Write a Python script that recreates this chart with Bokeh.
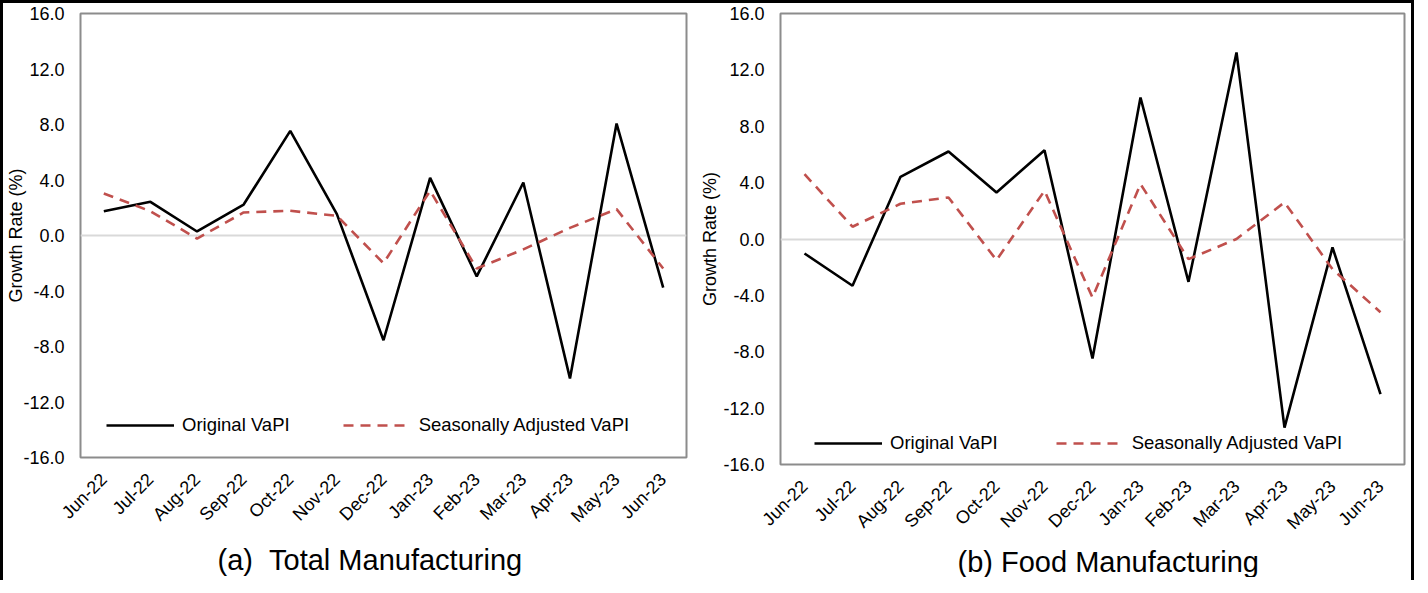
from math import pi
from bokeh.plotting import figure
from bokeh.layouts import row
from bokeh.models import (FactorRange, Range1d, FixedTicker, NumeralTickFormatter,
                          Legend, LegendItem, Title)
from bokeh.embed import file_html
from bokeh.resources import INLINE

months = ["Jun-22", "Jul-22", "Aug-22", "Sep-22", "Oct-22", "Nov-22", "Dec-22",
          "Jan-23", "Feb-23", "Mar-23", "Apr-23", "May-23", "Jun-23"]

total_original = [1.75, 2.43, 0.29, 2.23, 7.54, 1.54, -7.55, 4.15, -2.95, 3.82, -10.3, 8.07, -3.75]
total_sa = [3.03, 1.75, -0.22, 1.66, 1.78, 1.42, -2.0, 3.22, -2.38, -1.0, 0.55, 1.9, -2.38]

food_original = [-1.03, -3.32, 4.41, 6.21, 3.30, 6.3, -8.48, 10.04, -3.04, 13.24, -13.38, -0.6, -11.0]
food_sa = [4.6, 0.87, 2.5, 2.95, -1.5, 3.42, -4.15, 3.9, -1.43, 0.0, 2.6, -2.14, -5.2]

y_ticks = [-16, -12, -8, -4, 0, 4, 8, 12, 16]
caption_a = "(a)\u00a0\u00a0Total Manufacturing"
caption_b = "(b) Food Manufacturing"
series_names = ["Original VaPI", "Seasonally Adjusted VaPI"]

FONT = "Liberation Sans"
RED = "#c0504d"


def make_panel(orig, sa, caption, frame_w, frame_h, mb_left, mb_right, mb_bottom,
               ylab_standoff, legend_loc, legend_spacing, cap_offset, cap_standoff):
    p = figure(x_range=FactorRange(*months, range_padding=0), y_range=Range1d(-16, 16),
               frame_width=frame_w, frame_height=frame_h,
               output_backend="svg", toolbar_location=None,
               min_border_left=mb_left, min_border_right=mb_right,
               min_border_top=10, min_border_bottom=mb_bottom,
               background_fill_color="white", border_fill_color="white")
    p.outline_line_color = "#8c8c8c"
    p.outline_line_width = 2
    p.xgrid.visible = False
    p.ygrid.ticker = FixedTicker(ticks=[0])
    p.ygrid.grid_line_color = "#d9d9d9"
    p.ygrid.grid_line_width = 2

    p.yaxis.ticker = FixedTicker(ticks=y_ticks)
    p.yaxis.formatter = NumeralTickFormatter(format="0.0")
    p.yaxis.axis_label = "Growth Rate (%)"
    p.yaxis.axis_label_text_font = FONT
    p.yaxis.axis_label_text_font_style = "normal"
    p.yaxis.axis_label_text_font_size = "18px"
    p.yaxis.axis_label_text_color = "black"
    p.yaxis.axis_label_standoff = ylab_standoff
    p.yaxis.major_label_standoff = 16

    for ax in (p.xaxis[0], p.yaxis[0]):
        ax.axis_line_color = None
        ax.major_tick_line_color = None
        ax.minor_tick_line_color = None
        ax.major_tick_out = 0
        ax.major_tick_in = 0
        ax.minor_tick_out = 0
        ax.minor_tick_in = 0
        ax.major_label_text_font = FONT
        ax.major_label_text_font_size = "18px"
        ax.major_label_text_color = "black"
    p.xaxis.major_label_orientation = pi / 4
    p.xaxis.major_label_standoff = 19

    r1 = p.line(months, orig, line_color="black", line_width=2.6)
    r2 = p.line(months, sa, line_color=RED, line_width=2.6, line_dash="10 7")

    leg = Legend(items=[LegendItem(label=series_names[0], renderers=[r1]),
                        LegendItem(label=series_names[1], renderers=[r2])],
                 orientation="horizontal", location=legend_loc,
                 border_line_color=None, background_fill_alpha=0,
                 padding=0, margin=0, spacing=legend_spacing, label_standoff=8,
                 glyph_width=68, glyph_height=18, label_height=18,
                 label_text_font=FONT, label_text_font_size="18.5px",
                 label_text_color="black")
    p.add_layout(leg, "center")

    t = Title(text=caption, align="left", text_font=FONT, text_font_size="29px",
              text_font_style="normal", text_color="black",
              offset=cap_offset, standoff=cap_standoff)
    p.add_layout(t, "below")
    return p


p1 = make_panel(total_original, total_sa, caption_a, 606, 444, 77, 11, 120,
                -6, (26, 21), 53, 137, 10)
p2 = make_panel(food_original, food_sa, caption_b, 624, 451, 80, 7, 113,
                0, (34, 10), 58, 177, 0)

layout = row(p1, p2, styles={"border-top": "3px solid black",
                             "border-left": "3px solid black",
                             "border-right": "3px solid black"})

open("out.html", "w").write(file_html(layout, INLINE))
